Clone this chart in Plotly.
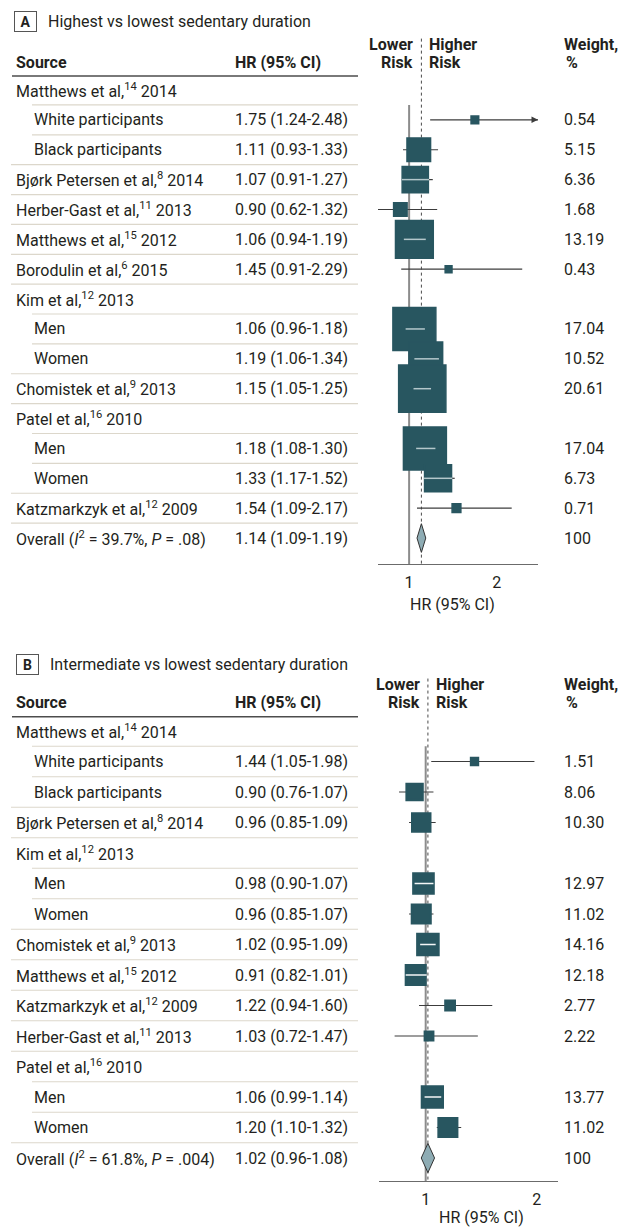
import math
import plotly.graph_objects as go

W, H = 628, 1228
FONT = "Roboto, 'DejaVu Sans', sans-serif"
INK = "#231f20"

# ---------------- Panel A: highest vs lowest sedentary duration ----------------
A_title = "Highest vs lowest sedentary duration"
A_labels = [
    "Matthews et al,<sup>14</sup> 2014",
    "White participants",
    "Black participants",
    "Bjørk Petersen et al,<sup>8</sup> 2014",
    "Herber-Gast et al,<sup>11</sup> 2013",
    "Matthews et al,<sup>15</sup> 2012",
    "Borodulin et al,<sup>6</sup> 2015",
    "Kim et al,<sup>12</sup> 2013",
    "Men",
    "Women",
    "Chomistek et al,<sup>9</sup> 2013",
    "Patel et al,<sup>16</sup> 2010",
    "Men",
    "Women",
    "Katzmarkzyk et al,<sup>12</sup> 2009",
    "Overall (<i>I</i><sup>2</sup> = 39.7%, <i>P</i> = .08)",
]
A_level = [0, 1, 1, 0, 0, 0, 0, 0, 1, 1, 0, 0, 1, 1, 0, 0]
A_hr = [None, 1.75, 1.11, 1.07, 0.90, 1.06, 1.45, None, 1.06, 1.19, 1.15, None, 1.18, 1.33, 1.54, 1.14]
A_lo = [None, 1.24, 0.93, 0.91, 0.62, 0.94, 0.91, None, 0.96, 1.06, 1.05, None, 1.08, 1.17, 1.09, 1.09]
A_hi = [None, 2.48, 1.33, 1.27, 1.32, 1.19, 2.29, None, 1.18, 1.34, 1.25, None, 1.30, 1.52, 2.17, 1.19]
A_wt = [None, 0.54, 5.15, 6.36, 1.68, 13.19, 0.43, None, 17.04, 10.52, 20.61, None, 17.04, 6.73, 0.71, 100]

# ---------------- Panel B: intermediate vs lowest sedentary duration ----------------
B_title = "Intermediate vs lowest sedentary duration"
B_labels = [
    "Matthews et al,<sup>14</sup> 2014",
    "White participants",
    "Black participants",
    "Bjørk Petersen et al,<sup>8</sup> 2014",
    "Kim et al,<sup>12</sup> 2013",
    "Men",
    "Women",
    "Chomistek et al,<sup>9</sup> 2013",
    "Matthews et al,<sup>15</sup> 2012",
    "Katzmarkzyk et al,<sup>12</sup> 2009",
    "Herber-Gast et al,<sup>11</sup> 2013",
    "Patel et al,<sup>16</sup> 2010",
    "Men",
    "Women",
    "Overall (<i>I</i><sup>2</sup> = 61.8%, <i>P</i> = .004)",
]
B_level = [0, 1, 1, 0, 0, 1, 1, 0, 0, 0, 0, 0, 1, 1, 0]
B_hr = [None, 1.44, 0.90, 0.96, None, 0.98, 0.96, 1.02, 0.91, 1.22, 1.03, None, 1.06, 1.20, 1.02]
B_lo = [None, 1.05, 0.76, 0.85, None, 0.90, 0.85, 0.95, 0.82, 0.94, 0.72, None, 0.99, 1.10, 0.96]
B_hi = [None, 1.98, 1.07, 1.09, None, 1.07, 1.07, 1.09, 1.01, 1.60, 1.47, None, 1.14, 1.32, 1.08]
B_wt = [None, 1.51, 8.06, 10.30, None, 12.97, 11.02, 14.16, 12.18, 2.77, 2.22, None, 13.77, 11.02, 100]

x_ticks = [1, 2]
x_title = "HR (95% CI)"
col_source = "Source"
col_hr = "HR (95% CI)"
col_weight = ["Weight,", "%"]
risk_left = ["Lower", "Risk"]
risk_right = ["Higher", "Risk"]

# layout of each panel in page pixels
panels = [
    dict(tag="A", title=A_title, labels=A_labels, level=A_level, hr=A_hr, lo=A_lo, hi=A_hi, wt=A_wt,
         xa="x", ya="y", xpx=(378, 538), xr=(0.645, 2.47), ypx=(0, 564), row0=90, step=29.87,
         kbox=10.4, pad=1.5, inner="#b4c7cb", title_row=-2.28, box_x=25, title_x=46, xtitle_gap=40),
    dict(tag="B", title=B_title, labels=B_labels, level=B_level, hr=B_hr, lo=B_lo, hi=B_hi, wt=B_wt,
         xa="x2", ya="y2", xpx=(379.3, 558.3), xr=(0.582, 2.195), ypx=(640, 1181), row0=731, step=30.5,
         kbox=5.6, pad=2.5, inner="#f4f7f7", title_row=-2.18, box_x=27.5, title_x=48, xtitle_gap=36),
]

BOX = "#285660"
CI = "#3c3c3c"
SEP = "#dcd7cb"

fig = go.Figure()
annotations = []
shapes = []


def px(x):
    return x / W


def label(x_pix, row, text, ya, size=16, bold=False, anchor="left", xref="paper", xshift=0):
    annotations.append(dict(
        x=px(x_pix) if xref == "paper" else x_pix, xref=xref, y=row, yref=ya,
        text=f"<b>{text}</b>" if bold else text, showarrow=False,
        xanchor=anchor, yanchor="middle", xshift=xshift,
        font=dict(family=FONT, size=size, color=INK),
    ))


def fmt_w(w):
    return "100" if w == 100 else f"{w:.2f}"


for p in panels:
    n = len(p["labels"])
    xa, ya = p["xa"], p["ya"]
    ppu = (p["xpx"][1] - p["xpx"][0]) / (p["xr"][1] - p["xr"][0])
    bottom = (p["ypx"][1] - p["row0"]) / p["step"]
    top = (p["ypx"][0] - p["row0"]) / p["step"]
    pooled = n - 1
    est = p["hr"][pooled]
    xmax = p["xr"][1]

    # axes
    axis_id = "" if p["tag"] == "A" else "2"
    fig.layout["xaxis" + axis_id] = dict(
        domain=[px(p["xpx"][0]), px(p["xpx"][1])], range=list(p["xr"]), anchor=ya,
        tickvals=x_ticks, ticktext=[str(t) for t in x_ticks], ticks="", showgrid=False, zeroline=False,
        showline=True, linecolor="#6b6b6b", linewidth=1, ticklabelstandoff=4,
        tickfont=dict(family=FONT, size=16, color=INK), fixedrange=True,
    )
    fig.layout["yaxis" + axis_id] = dict(
        domain=[1 - p["ypx"][1] / H, 1 - p["ypx"][0] / H], range=[bottom, top], anchor=xa,
        visible=False, fixedrange=True,
    )

    # reference line at HR = 1 and dotted line at the pooled estimate
    fig.add_trace(go.Scatter(x=[1, 1], y=[0.5, bottom], xaxis=xa, yaxis=ya, mode="lines",
                             line=dict(color="#8c8c8c", width=2), hoverinfo="skip"))
    fig.add_trace(go.Scatter(x=[est, est], y=[-1.72, bottom], xaxis=xa, yaxis=ya, mode="lines",
                             line=dict(color="#4a4a4a", width=1, dash="dot"), hoverinfo="skip"))

    # confidence interval whiskers
    cx, cy = [], []
    for r in range(pooled):
        if p["hr"][r] is None:
            continue
        cx += [p["lo"][r], min(p["hi"][r], xmax), None]
        cy += [r, r, None]
        if p["hi"][r] > xmax:
            annotations.append(dict(x=xmax, y=r, xref=xa, yref=ya, ax=xmax - 0.06, ay=r,
                                    axref=xa, ayref=ya, text="", showarrow=True, arrowhead=2,
                                    arrowsize=1.3, arrowwidth=1, arrowcolor=CI, standoff=0))
    fig.add_trace(go.Scatter(x=cx, y=cy, xaxis=xa, yaxis=ya, mode="lines",
                             line=dict(color=CI, width=1.2), hoverinfo="skip"))

    # weighted study boxes; an interval that fits inside its box is redrawn in a light tone
    sx, sy, ss = [], [], []
    ix, iy = [], []
    for r in range(pooled):
        if p["hr"][r] is None:
            continue
        size = p["kbox"] * math.sqrt(p["wt"][r])
        side = size + p["pad"]
        sx.append(p["hr"][r]); sy.append(r); ss.append(size)
        ci_px = (p["hi"][r] - p["lo"][r]) * ppu
        if ci_px <= 1.15 * side:
            half = side / 2 / ppu
            ix += [max(p["lo"][r], p["hr"][r] - half), min(p["hi"][r], p["hr"][r] + half), None]
            iy += [r, r, None]
    fig.add_trace(go.Scatter(x=sx, y=sy, xaxis=xa, yaxis=ya, mode="markers",
                             marker=dict(symbol="square", size=ss, color=BOX, opacity=1,
                                         line=dict(color=BOX, width=p["pad"])),
                             hoverinfo="skip"))
    fig.add_trace(go.Scatter(x=ix, y=iy, xaxis=xa, yaxis=ya, mode="lines",
                             line=dict(color=p["inner"], width=1.5), hoverinfo="skip"))

    # pooled estimate diamond
    lo, hi = p["lo"][pooled], p["hi"][pooled]
    fig.add_trace(go.Scatter(x=[lo, est, hi, est, lo], y=[pooled, pooled - 0.48, pooled, pooled + 0.48, pooled],
                             xaxis=xa, yaxis=ya, mode="lines", fill="toself", fillcolor="#8eacb4",
                             line=dict(color="#333333", width=1), hoverinfo="skip"))

    # table text
    for r in range(n):
        label(15 - 1 if p["level"][r] == 0 else 33 - 1, r, p["labels"][r], ya)
        if p["hr"][r] is not None:
            label(234 - 1, r, f"{p['hr'][r]:.2f} ({p['lo'][r]:.2f}-{p['hi'][r]:.2f})", ya)
            label(563 - 1, r, fmt_w(p["wt"][r]), ya)
    for r in range(n - 1):
        x0 = 11 if p["level"][r + 1] == 0 else 32
        shapes.append(dict(type="line", xref="paper", yref=ya, x0=px(x0), x1=px(358),
                           y0=r + 0.5, y1=r + 0.5, line=dict(color=SEP, width=1.2)))

    # header
    shapes.append(dict(type="line", xref="paper", yref=ya, x0=px(12), x1=px(358),
                       y0=-0.47, y1=-0.47, line=dict(color="#4d4d4d", width=1.5)))
    label(15 - 1, -0.93, col_source, ya, bold=True)
    label(234 - 1, -0.93, col_hr, ya, bold=True)
    label(563 - 1, -1.52, col_weight[0], ya, bold=True)
    label(565 - 1, -0.93, col_weight[1], ya, bold=True)
    label(est, -1.52, risk_left[0], ya, bold=True, anchor="right", xref=xa, xshift=-6)
    label(est, -0.93, risk_left[1], ya, bold=True, anchor="right", xref=xa, xshift=-6)
    label(est, -1.52, risk_right[0], ya, bold=True, anchor="left", xref=xa, xshift=6)
    label(est, -0.93, risk_right[1], ya, bold=True, anchor="left", xref=xa, xshift=6)

    # panel letter box and title
    annotations.append(dict(x=px(p["box_x"]), xref="paper", y=p["title_row"], yref=ya,
                            text=f"<b>{p['tag']}</b>", showarrow=False, xanchor="center", yanchor="middle",
                            width=19, height=17, borderpad=1, bordercolor="#555555", borderwidth=1,
                            font=dict(family=FONT, size=14, color=INK)))
    label(p["title_x"], p["title_row"], p["title"], ya, size=16)

    # x-axis title
    axis_px = p["ypx"][1]
    annotations.append(dict(x=1.5, xref=xa, y=1 - (axis_px + p["xtitle_gap"]) / H, yref="paper",
                            text=x_title, showarrow=False, xanchor="center", yanchor="middle",
                            font=dict(family=FONT, size=16, color=INK)))

fig.update_layout(
    width=W, height=H, margin=dict(l=0, r=0, t=0, b=0),
    paper_bgcolor="white", plot_bgcolor="white", showlegend=False,
    annotations=annotations, shapes=shapes,
)

fig.write_html("out.html")
